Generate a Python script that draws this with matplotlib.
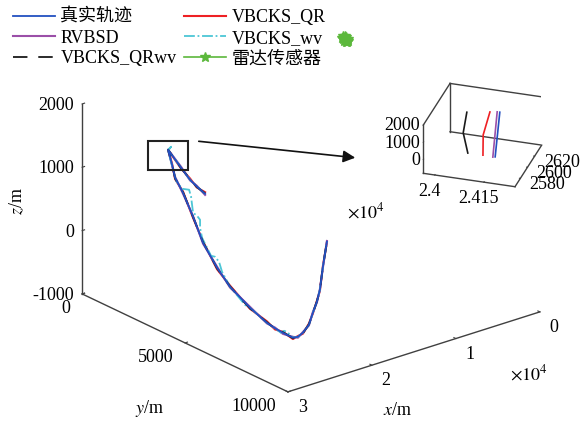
import matplotlib
matplotlib.use('Agg')
import matplotlib.pyplot as plt
from matplotlib.patches import Rectangle, FancyArrowPatch
import numpy as np

plt.rcParams['font.family'] = ['Liberation Serif', 'Noto Sans CJK SC']
plt.rcParams['mathtext.fontset'] = 'stix'
plt.rcParams['font.size'] = 13
plt.rcParams['axes.unicode_minus'] = False

# ---------------- data (main view) ----------------
true_x = [21000, 22000, 22700, 23400, 24100, 24150, 24200, 24300, 24400, 24600, 24800, 25000, 25300,
          25600, 25750, 25900, 26000, 25950, 25900, 25800, 25700, 25600, 25500, 25400, 25300]
true_y = [2301, 2306, 2266, 2115, 1769, 1983, 2150, 2579, 3105, 3672, 4433, 5146, 6239,
          7186, 7636, 8085, 8612, 8834, 9056, 9307, 9460, 9613, 9718, 9823, 9977]
true_z = [558, 716, 845, 1041, 1302, 1100, 922, 756, 463, 148, -121, -302, -452,
          -530, -541, -536, -529, -481, -385, -224, -15, 178, 380, 755, 1169]

qr_dz = [25, -15, 20, -12, 0, 15, -20, 15, -18, 20, -22, 18, -15,
         22, -18, 15, -20, 12, -15, 18, -10, 15, -18, 12, -8]
rvbsd_dz = [-18, 12, -10, 15, 0, -12, 15, -18, 10, -15, 18, -12, 15,
            -10, 12, -18, 15, -15, 12, -12, 15, -12, 10, -15, 12]
qrwv_dz = [8, -8, 10, -6, 0, 6, -10, 8, -6, 10, -8, 6, -10,
           8, -6, 10, -8, 6, -10, 8, -6, 8, -8, 6, -6]

wv_x = [21000, 22000, 22700, 23400, 24100, 24100, 24100, 24150, 24200, 24250, 24300, 24300, 24350,
        24400, 24450, 24500, 24550, 24700, 24750, 24800, 24850, 25000, 25200, 25300, 25600, 25750,
        25850, 25900, 25950, 26000, 26000, 25950, 25900, 25800, 25700, 25600, 25500, 25400, 25300]
wv_y = [2301, 2306, 2266, 2115, 1769, 1915, 1769, 1983, 2198, 2510, 2870, 2967, 3084,
        3299, 3465, 3485, 3603, 4101, 4316, 4530, 4696, 5146, 5955, 6239, 7186, 7636,
        7968, 8134, 8300, 8466, 8612, 8834, 9056, 9307, 9460, 9613, 9718, 9823, 9977]
wv_z = [558, 716, 845, 1041, 1302, 1372, 1286, 1084, 882, 806, 849, 753, 520,
        508, 473, 352, 214, 13, 33, -11, -141, -302, -453, -452, -530, -541,
        -556, -497, -485, -504, -529, -481, -385, -224, -15, 178, 380, 755, 1169]

radar_x = [0, 0, 0, 0, 0, 0, 0, 0, 0, 0, 0, 0, 0, 0]
radar_y = [390, 450, 520, 590, 660, 690, 640, 560, 480, 420, 470, 540, 610, 530]
radar_z = [1845, 1875, 1885, 1880, 1860, 1835, 1815, 1805, 1810, 1825, 1850, 1860, 1840, 1835]

x_ticks = [0, 10000, 20000, 30000]
x_ticklabels = ['0', '1', '2', '3']
y_ticks = [0, 5000, 10000]
y_ticklabels = ['0', '5000', '10000']
z_ticks = [-1000, 0, 1000, 2000]
z_ticklabels = ['-1000', '0', '1000', '2000']

# ---------------- data (inset view) ----------------
ins_true_x = [24154, 24167]
ins_true_y = [2606, 2581]
ins_true_z = [1950, 200]
ins_rvbsd_x = [24146, 24161]
ins_rvbsd_y = [2606, 2580]
ins_rvbsd_z = [1950, 200]
ins_qr_x = [24126, 24125, 24133]
ins_qr_y = [2604, 2586, 2578]
ins_qr_z = [1950, 1200, 300]
ins_qrwv_x = [24062, 24064, 24090]
ins_qrwv_y = [2598, 2586, 2575]
ins_qrwv_z = [1950, 1150, 400]

ins_x_ticks = [24000, 24150]
ins_x_ticklabels = ['2.4', '2.415']
ins_y_ticks = [2580, 2600, 2620]
ins_y_ticklabels = ['2580', '2600', '2620']
ins_z_ticks = [0, 1000, 2000]
ins_z_ticklabels = ['0', '1000', '2000']

# ---------------- styles ----------------
C_TRUE = '#2350c0'
C_QR = '#ee2024'
C_RVBSD = '#9b4fa8'
C_WV = '#4cc6d6'
C_QRWV = '#1a1a1a'
C_RADAR = '#5cb83c'
AX_C = '#404040'

W, H = 584, 423
fig = plt.figure(figsize=(W / 100, H / 100), dpi=100)
fig.patch.set_facecolor('white')


def px(x, y):
    return x / W, 1 - y / H


def style3d(a):
    a.grid(False)
    a.set_facecolor((1, 1, 1, 0))
    for axis in (a.xaxis, a.yaxis, a.zaxis):
        axis.pane.set_facecolor((1, 1, 1, 0))
        axis.pane.set_edgecolor((1, 1, 1, 0))
        axis.line.set_color(AX_C)
        axis.line.set_linewidth(1.0)
        axis._axinfo['tick']['inward_factor'] = 0.0
        axis._axinfo['tick']['outward_factor'] = 0.12
        axis._axinfo['tick']['linewidth'] = {True: 0.8, False: 0.5}
    a.tick_params(axis='both', color=AX_C, labelcolor='black', labelsize=13)


# ---------------- main axes ----------------
ax = fig.add_axes([0.1606, -0.005, 0.7243, 1.0], projection='3d',
                  proj_type='ortho', computed_zorder=False)
ax.set_xlim(0, 30000)
ax.set_ylim(0, 10000)
ax.set_zlim(-1000, 2000)
ax.set_box_aspect((1, 1, 0.634), zoom=1.157)
ax.view_init(elev=22.87, azim=50.76)
style3d(ax)
ax.set_xticks(x_ticks)
ax.set_xticklabels(x_ticklabels, ha='left', va='center_baseline')
ax.set_yticks(y_ticks)
ax.set_yticklabels(y_ticklabels, ha='right', va='center_baseline')
ax.set_zticks(z_ticks)
ax.set_zticklabels(z_ticklabels, ha='right', va='center_baseline')
ax.xaxis.set_tick_params(pad=-0.5)
ax.yaxis.set_tick_params(pad=-0.7)
ax.zaxis.set_tick_params(pad=-5.2)

tx = np.array(true_x, float)
ty = np.array(true_y, float)
tz = np.array(true_z, float)

l_qr, = ax.plot(tx, ty, tz + np.array(qr_dz), color=C_QR, lw=1.5, zorder=2)
l_rv, = ax.plot(tx, ty, tz + np.array(rvbsd_dz), color=C_RVBSD, lw=1.5, zorder=3)
l_wv, = ax.plot(wv_x, wv_y, wv_z, color=C_WV, lw=1.3, zorder=4,
                linestyle=(0, (6, 1.5, 1, 1.5)))
l_qrwv, = ax.plot(tx, ty, tz + np.array(qrwv_dz), color=C_QRWV, lw=1.3, zorder=5,
                  linestyle=(0, (8, 6)))
l_true, = ax.plot(tx, ty, tz, color=C_TRUE, lw=1.3, zorder=6)
l_radar, = ax.plot(radar_x, radar_y, radar_z, color=C_RADAR, lw=1.2, marker='*',
                   markersize=7, zorder=7)

# axis labels / exponent
fig.text(*px(17, 201), r'$z$/m', rotation=90, ha='center', va='center', fontsize=13)
fig.text(*px(150, 408), r'$y$/m', ha='center', va='center', fontsize=13)
fig.text(*px(398, 410), r'$x$/m', ha='center', va='center', fontsize=13)
fig.text(*px(529, 374), r'$\times10^{4}$', ha='center', va='center', fontsize=13)
fig.text(*px(366, 212), r'$\times10^{4}$', ha='center', va='center', fontsize=13)

# ---------------- inset axes ----------------
axin = fig.add_axes([0.7207, 0.535, 0.2055, 0.2837], projection='3d',
                    proj_type='ortho', computed_zorder=False)
ix0, ix1 = 23965, 24245
iy0, iy1 = 2565, 2640
iz0, iz1 = -800, 2000
axin.set_xlim(ix0, ix1)
axin.set_ylim(iy0, iy1)
axin.set_zlim(iz0, iz1)
axin.set_box_aspect((1, 0.951, 0.573), zoom=1.159)
axin.view_init(elev=28.5, azim=-72.97)
axin.zaxis.set_ticks_position('lower')
axin.zaxis.set_label_position('lower')
style3d(axin)
axin.set_xticks(ins_x_ticks)
axin.set_xticklabels(ins_x_ticklabels, ha='center', va='center')
axin.set_yticks(ins_y_ticks)
axin.set_yticklabels(ins_y_ticklabels, ha='left', va='center')
axin.set_zticks(ins_z_ticks)
axin.set_zticklabels(ins_z_ticklabels, ha='right', va='center')
axin.xaxis.set_tick_params(pad=0.3)
axin.yaxis.set_tick_params(pad=-3.5)
axin.zaxis.set_tick_params(pad=-6.8)

for ex, ey, ez in [([ix0, ix0], [iy1, iy1], [iz0, iz1]),
                   ([ix1, ix1], [iy1, iy1], [iz0, iz1]),
                   ([ix0, ix1], [iy1, iy1], [iz0, iz0]),
                   ([ix0, ix0], [iy0, iy1], [iz1, iz1]),
                   ([ix0, ix1], [iy1, iy1], [iz1, iz1])]:
    axin.plot(ex, ey, ez, color=AX_C, lw=1.0, zorder=1)

axin.plot(ins_qrwv_x, ins_qrwv_y, ins_qrwv_z, color=C_QRWV, lw=1.2, zorder=2)
axin.plot(ins_qr_x, ins_qr_y, ins_qr_z, color=C_QR, lw=1.2, zorder=3)
axin.plot(ins_rvbsd_x, ins_rvbsd_y, ins_rvbsd_z, color=C_RVBSD, lw=1.2, zorder=4)
axin.plot(ins_true_x, ins_true_y, ins_true_z, color=C_TRUE, lw=1.2, zorder=5)

# ---------------- zoom rectangle and arrow ----------------
fig.patches.append(Rectangle(px(148, 170), 40 / W, 29 / H, transform=fig.transFigure,
                             fill=False, edgecolor='#222222', lw=1.5))
fig.add_artist(FancyArrowPatch(
    px(196, 141), px(358, 158), transform=fig.transFigure,
    arrowstyle='-|>', mutation_scale=18, lw=1.2, color='#111111'))

# ---------------- legend ----------------
handles = [l_true, l_rv, l_qrwv, l_qr, l_wv, l_radar]
labels = ['真实轨迹', 'RVBSD', 'VBCKS_QRwv', 'VBCKS_QR', 'VBCKS_wv', '雷达传感器']
fig.legend(handles, labels, loc='upper left', bbox_to_anchor=px(13, 9), ncol=2,
           frameon=False, fontsize=13, handlelength=2.33, handletextpad=0.3,
           columnspacing=0.4, labelspacing=0.2, borderpad=0, borderaxespad=0)

fig.savefig('out.png', dpi=100)
